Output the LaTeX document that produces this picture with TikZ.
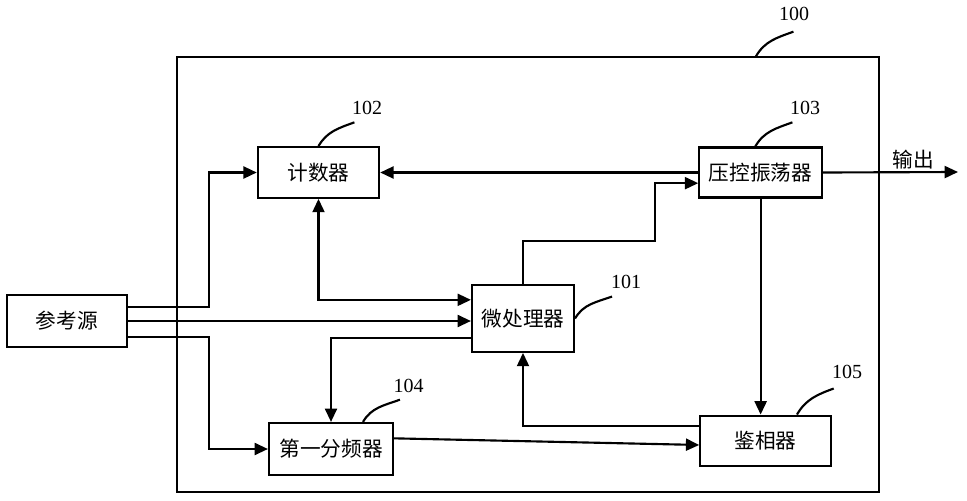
\documentclass[tikz,border=0pt]{standalone}
\usepackage{fontspec}
\setmainfont{Liberation Serif}
\newfontfamily\cjk{Noto Sans CJK SC}
\usetikzlibrary{arrows.meta, positioning}
\tikzset{
x=0.75pt, y=-0.75pt, % one unit is one pixel, y runs downwards
>={Triangle[length=10pt, width=9pt]}, % filled arrow heads
block/.style={draw, line width=1.6pt, inner sep=0pt, font=\cjk\fontsize{15.5}{18}\selectfont}, % the boxes
wire/.style={line width=1.6pt}, % the connections
tag/.style={inner sep=0pt, font=\fontsize{15}{18}\selectfont}, % reference numbers
lead/.style={line width=1.6pt, out=60, in=200}, % curved leader to a number
}

\begin{document}
\begin{tikzpicture}
    \useasboundingbox (0,0) rectangle (967,500);
    \node[draw, line width=1.1pt, minimum width=526.5pt, minimum height=326.25pt] (sys) at (528,274.5) {};
    \node[block, minimum width=90pt, minimum height=39pt] (ref) at (67,321) {参考源};
    \node[block, minimum width=91pt, minimum height=38pt] (count) at (318.5,172.5) {计数器};
    \node[block, minimum width=92pt, minimum height=37.5pt, right=238.5pt of count] (vco) {压控振荡器};
    \node[block, minimum width=76.5pt, minimum height=50pt] (mcu) at (523,318.5) {微处理器};
    \node[block, minimum width=93pt, minimum height=39pt] (div) at (331,449) {第一分频器};
    \node[block, minimum width=98pt, minimum height=38pt, below=162pt of vco, xshift=3.75pt] (pd) {鉴相器};
    \coordinate (out) at (958,172);

    \draw[wire, ->] ([yshift=10.5pt]ref.east) -- ++(81,0) |- (count.west);
    \draw[wire, ->] (ref.east) -- (ref.east -| mcu.west);
    \draw[wire, ->] ([yshift=-12pt]ref.east) -- ++(81,0) |- (div.west);
    \draw[wire, ->] (vco.west) -- (count.east);
    \draw[wire, ->] (mcu.north) -- ++(0,-43) -- ++(132,0) |- ([yshift=-8pt]vco.west);
    \draw[wire, <->] (count.south) |- ([yshift=14pt]mcu.west);
    \draw[wire, ->] ([yshift=-14.5pt]mcu.west) -| (div.north);
    \draw[wire, ->] (vco.south) -- (vco.south |- pd.north);
    \draw[wire, ->] ([yshift=11pt]pd.west) -| (mcu.south);
    \draw[wire, ->] ([yshift=8pt]div.east) -- ([yshift=-3pt]pd.west);
    \draw[wire, ->] (vco.east) -- node[above, pos=0.67, inner sep=1.5pt, font=\cjk\fontsize{15.5}{18}\selectfont] {输出} (out);

    % reference numbers
    \node[tag] (n100) at (794,14) {100};
    \node[tag] (n101) at (626,281.5) {101};
    \node[tag] (n102) at (367,108) {102};
    \node[tag] (n103) at (805,108) {103};
    \node[tag] (n104) at (408.5,386) {104};
    \node[tag] (n105) at (847,371.5) {105};
    \draw[lead] ([xshift=171pt]sys.north) to ([shift={(11pt,-8pt)}]n100.south west);
    \draw[lead] (mcu.east) to ([shift={(1pt,-6pt)}]n101.south west);
    \draw[lead] (count.north) to ([shift={(2pt,-5.5pt)}]n102.south west);
    \draw[lead] ([xshift=-4pt]vco.north) to ([shift={(2pt,-5.5pt)}]n103.south west);
    \draw[lead] ([xshift=24pt]div.north) to ([shift={(5pt,-5pt)}]n104.south west);
    \draw[lead] ([xshift=23.5pt]pd.north) to ([shift={(1.5pt,-7.5pt)}]n105.south west);
\end{tikzpicture}
\end{document}
